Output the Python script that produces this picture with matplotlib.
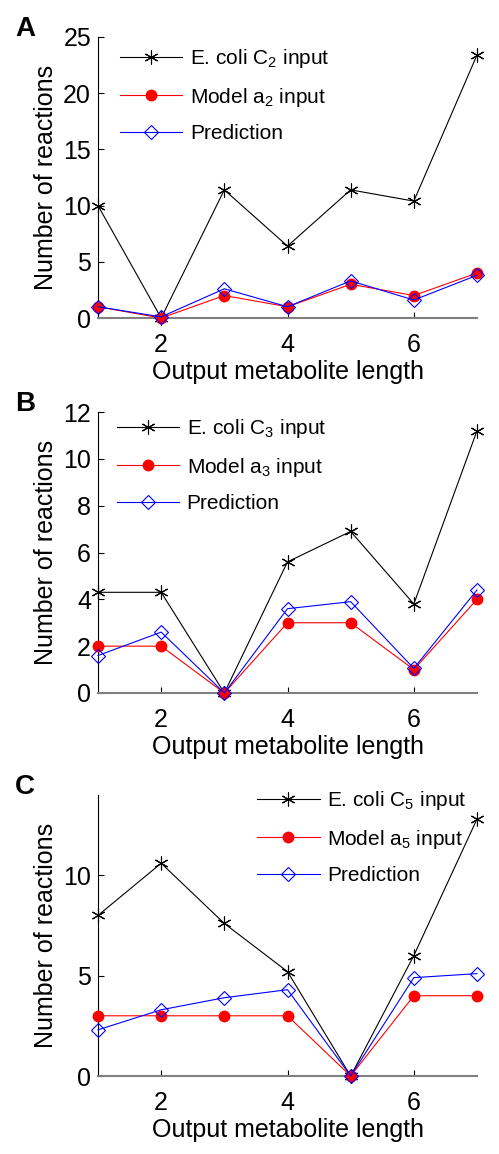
import matplotlib
matplotlib.use("Agg")
import matplotlib.pyplot as plt

plt.rcParams['font.family'] = ['Liberation Sans', 'DejaVu Sans']
plt.rcParams['mathtext.fontset'] = 'custom'
plt.rcParams['mathtext.rm'] = 'Liberation Sans'
plt.rcParams['mathtext.it'] = 'Liberation Sans'

x = [1, 2, 3, 4, 5, 6, 7]

ecoli_A = [10, 0, 11.4, 6.4, 11.4, 10.4, 23.4]
model_A = [1, 0, 2, 1, 3, 2, 4]
pred_A = [1, 0.1, 2.6, 1.0, 3.3, 1.6, 3.8]

ecoli_B = [4.3, 4.3, 0, 5.6, 6.9, 3.8, 11.2]
model_B = [2, 2, 0, 3, 3, 1, 4]
pred_B = [1.6, 2.6, 0, 3.6, 3.9, 1.05, 4.4]

ecoli_C = [8.0, 10.6, 7.6, 5.2, 0, 6.0, 12.8]
model_C = [3, 3, 3, 3, 0, 4, 4]
pred_C = [2.3, 3.3, 3.9, 4.3, 0, 4.9, 5.1]

panels = [
    ("A", ecoli_A, model_A, pred_A, "2", (0, 25), [0, 5, 10, 15, 20, 25], (0.036, 0.994)),
    ("B", ecoli_B, model_B, pred_B, "3", (0, 12), [0, 2, 4, 6, 8, 10, 12], (0.028, 1.012)),
    ("C", ecoli_C, model_C, pred_C, "5", (0, 14), [0, 5, 10], (0.398, 1.051)),
]

W, H = 499, 1154
fig = plt.figure(figsize=(W / 100, H / 100), dpi=100)

# axes pixel boxes: (left, top, right, bottom)
boxes = [(98, 37, 477, 318), (98, 412, 477, 693), (98, 795, 477, 1076)]

asterisk = (6, 2, 0)
for (letter, ec, mo, pr, sub, ylim, yt, anchor), (l, t, r, b) in zip(panels, boxes):
    ax = fig.add_axes([l / W, 1 - b / H, (r - l) / W, (b - t) / H])
    ax.plot(x, ec, color='black', lw=0.8, marker=asterisk, ms=10, mew=0.8,
            label=r"E. coli C$_{%s}$ input" % sub, clip_on=False, zorder=3)
    ax.plot(x, mo, color='red', lw=0.8, marker='o', ms=7.5, mfc='red', mec='red',
            label=r"Model a$_{%s}$ input" % sub, clip_on=False, zorder=4)
    ax.plot(x, pr, color='blue', lw=0.8, marker='D', ms=7, mfc='none', mec='blue',
            mew=0.8, label="Prediction", clip_on=False, zorder=5)
    ax.set_xlim(1, 7)
    ax.set_ylim(*ylim)
    ax.set_xticks([2, 4, 6])
    ax.set_yticks(yt)
    ax.spines['top'].set_visible(False)
    ax.spines['right'].set_visible(False)
    ax.spines['left'].set_color('black')
    ax.spines['bottom'].set_color('#808080')
    ax.spines['bottom'].set_linewidth(1.5)
    ax.tick_params(direction='in', labelsize=18, length=4, width=0.8)
    ax.tick_params(axis='x', pad=11)
    ax.tick_params(axis='y', pad=5)
    ax.set_xlabel("Output metabolite length", fontsize=18, labelpad=2)
    ax.set_ylabel("Number of reactions", fontsize=18, labelpad=4)
    leg = ax.legend(loc='upper left', bbox_to_anchor=anchor, frameon=False,
                    fontsize=15, handlelength=3.0, labelspacing=0.75,
                    borderaxespad=0.0, handletextpad=0.35)
    fig.text(15 / W, 1 - (t - 21) / H, letter, fontsize=20, fontweight='bold',
             ha='left', va='top')

fig.savefig("out.png", dpi=100)
